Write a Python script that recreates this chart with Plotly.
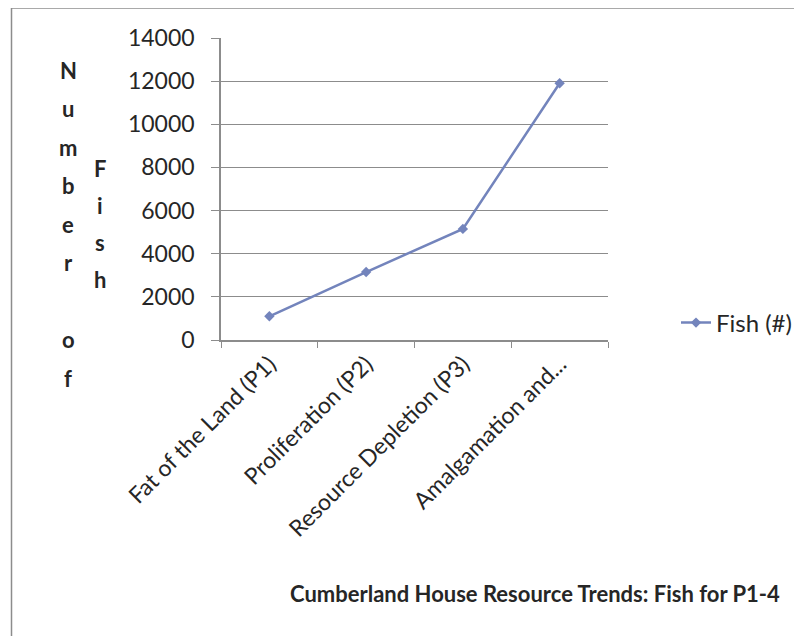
import plotly.graph_objects as go

categories = ["Fat of the Land (P1)", "Proliferation (P2)", "Resource Depletion (P3)", "Amalgamation and..."]
fish_values = [1100, 3150, 5150, 11900]
y_ticks = [0, 2000, 4000, 6000, 8000, 10000, 12000, 14000]
series_name = "Fish (#)"
title_text = "Cumberland House Resource Trends: Fish for P1-4"
ytitle_col1 = "Number of"
ytitle_col2 = "Fish"

OFF = 8  # browser body margin
W, H = 802 - OFF, 636 - OFF
# plot area in page pixels
PL, PR, PT, PB = 221, 608, 38, 340
L, R, T, B = PL - OFF, PR - OFF, PT - OFF, PB - OFF

def px(x):  # page px -> paper x
    return (x - PL) / (PR - PL)

def py(y):  # page px -> paper y
    return (PB - y) / (PB - PT)

FONT = "Lato, 'Open Sans', sans-serif"
TXT = "#262626"

fig = go.Figure()
fig.add_trace(go.Scatter(
    x=categories, y=fish_values, mode="lines+markers", name=series_name,
    line=dict(color="#7384BC", width=2.5),
    marker=dict(symbol="diamond", size=8, color="#7384BC"),
))

annotations = []
for i, ch in enumerate(ytitle_col1):
    if ch.strip():
        annotations.append(dict(x=px(68), y=py(70 + i * 38.5), xref="paper", yref="paper",
                                xanchor="center", yanchor="middle",
                                text="<b>%s</b>" % ch, showarrow=False,
                                font=dict(family=FONT, size=22, color=TXT)))
for i, ch in enumerate(ytitle_col2):
    annotations.append(dict(x=px(100), y=py(168 + i * 37), xref="paper", yref="paper",
                            xanchor="center", yanchor="middle",
                            text="<b>%s</b>" % ch, showarrow=False,
                            font=dict(family=FONT, size=22, color=TXT)))
annotations.append(dict(x=px(535), y=py(593), xref="paper", yref="paper",
                        xanchor="center", yanchor="middle",
                        text="<b>%s</b>" % title_text, showarrow=False,
                        font=dict(family=FONT, size=22, color=TXT)))

shapes = [
    dict(type="line", xref="paper", yref="paper", x0=px(11.5), x1=px(810), y0=py(8), y1=py(8),
         line=dict(color="#8c8c8c", width=1.5)),
    dict(type="line", xref="paper", yref="paper", x0=px(11.5), x1=px(11.5), y0=py(8), y1=py(650),
         line=dict(color="#8c8c8c", width=1.5)),
]

fig.update_layout(
    width=W, height=H,
    margin=dict(l=L, r=W - R, t=T, b=H - B, pad=0, autoexpand=False),
    paper_bgcolor="white", plot_bgcolor="white",
    font=dict(family=FONT, size=22, color=TXT),
    showlegend=True,
    legend=dict(x=px(676), y=py(323), xanchor="left", yanchor="middle",
                font=dict(family=FONT, size=24, color=TXT), bgcolor="rgba(0,0,0,0)"),
    annotations=annotations,
    shapes=shapes,
)
fig.update_xaxes(
    type="category", range=[-0.5, 3.5], tickangle=-45,
    tickson="boundaries", ticks="outside", ticklen=6, tickcolor="#8c8c8c",
    showline=True, linecolor="#8c8c8c", linewidth=1.5, showgrid=False,
    tickfont=dict(family=FONT, size=23, color=TXT), automargin=False,
)
fig.update_yaxes(
    range=[0, 14000], tickvals=y_ticks, tickformat="d", ticks="outside", ticklen=8,
    tickcolor="#8c8c8c",
    showline=True, linecolor="#8c8c8c", linewidth=1.5,
    showgrid=True, gridcolor="#8c8c8c", gridwidth=1, zeroline=False,
    tickfont=dict(family=FONT, size=23, color=TXT), ticklabelstandoff=12, automargin=False,
)

fig.write_html("out.html")
